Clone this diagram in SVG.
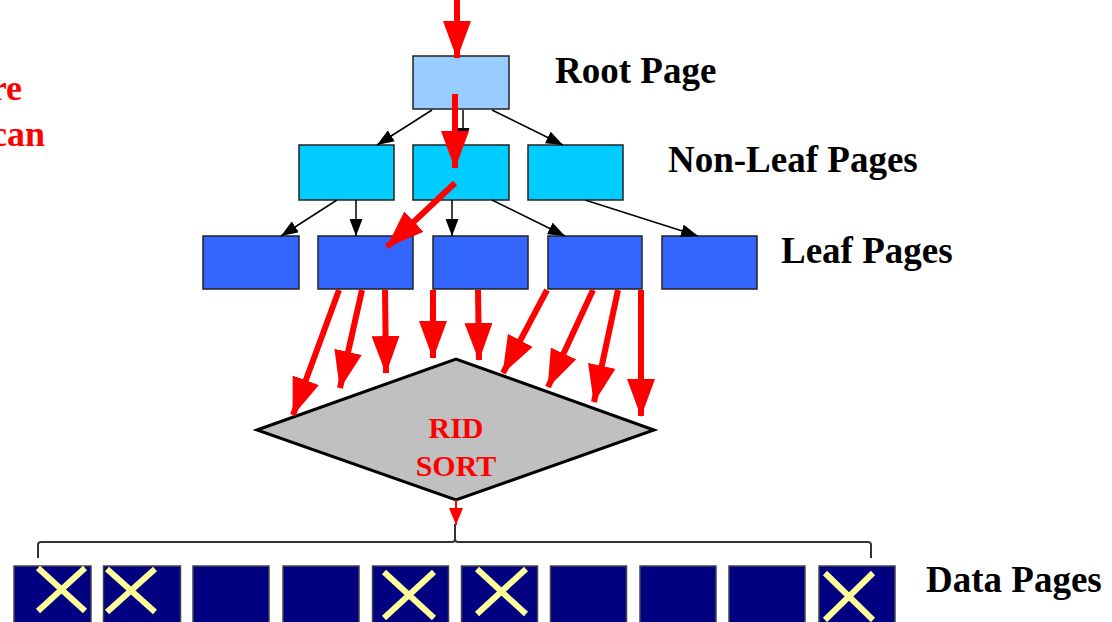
<svg xmlns="http://www.w3.org/2000/svg" width="1112" height="622" viewBox="0 0 1112 622">
<style>
.lbl{font-family:"Liberation Serif","Times New Roman",serif;font-weight:bold;font-size:37px;fill:#000}
.red{font-family:"Liberation Serif","Times New Roman",serif;font-weight:bold;font-size:30px;fill:#ff0000}
.side{font-family:"Liberation Serif","Times New Roman",serif;font-weight:bold;font-size:36px;fill:#ff0000}
.root{fill:#99ccff;stroke:#222;stroke-width:1.5}
.nl{fill:#00ccff;stroke:#222;stroke-width:1.5}
.leaf{fill:#3366ff;stroke:#222;stroke-width:1.5}
.data{fill:#000080;stroke:#444;stroke-width:1.5}
.x{stroke:#ffff99;stroke-width:6;stroke-linecap:butt}
.blk{stroke:#000;stroke-width:1.5;fill:none;marker-end:url(#ab)}
.rd{stroke:#ff0000;stroke-width:6;fill:none;marker-end:url(#ar)}
</style>
<defs>
<marker id="ab" markerUnits="userSpaceOnUse" viewBox="0 0 17 13" markerWidth="17" markerHeight="13" refX="17" refY="6.5" orient="auto"><path d="M0,0 L17,6.5 L0,13 z" fill="#000"/></marker>
<marker id="ar" markerUnits="userSpaceOnUse" viewBox="0 0 38 28" markerWidth="38" markerHeight="28" refX="37" refY="14" orient="auto"><path d="M0,0 L38,14 L0,28 z" fill="#ff0000"/></marker>
<marker id="ars" markerUnits="userSpaceOnUse" viewBox="0 0 17 14" markerWidth="17" markerHeight="14" refX="17" refY="7" orient="auto"><path d="M0,0 L17,7 L0,14 z" fill="#ff0000"/></marker>
</defs>
<rect width="1112" height="622" fill="#fff"/>

<g id="side-text">
<text class="side" x="22" y="100" text-anchor="end">re</text>
<text class="side" x="45" y="146" text-anchor="end">can</text>
</g>

<g id="root"><rect class="root" x="413" y="56" width="96" height="53"/><text class="lbl" x="555" y="83">Root Page</text></g>
<g id="nonleaf">
<rect class="nl" x="299" y="145" width="95" height="55"/>
<rect class="nl" x="413" y="145" width="96" height="55"/>
<rect class="nl" x="528" y="145" width="95" height="55"/>
<text class="lbl" x="668" y="172">Non-Leaf Pages</text>
</g>
<g id="leaf">
<rect class="leaf" x="203" y="236" width="96" height="53"/>
<rect class="leaf" x="318" y="236" width="95" height="53"/>
<rect class="leaf" x="433" y="236" width="95" height="53"/>
<rect class="leaf" x="548" y="236" width="94" height="53"/>
<rect class="leaf" x="662" y="236" width="95" height="53"/>
<text class="lbl" x="781" y="263">Leaf Pages</text>
</g>
<g id="ridsort">
<polygon points="257,430 456,359 654,430 456,500" fill="#c0c0c0" stroke="#000" stroke-width="3"/>
<text class="red" x="456" y="438" text-anchor="middle">RID</text>
<text class="red" x="456" y="476" text-anchor="middle">SORT</text>
</g>
<g id="data">
<rect class="data" x="14" y="566" width="77" height="70"/>
<rect class="data" x="103.5" y="566" width="77" height="70"/>
<rect class="data" x="193" y="566" width="76" height="70"/>
<rect class="data" x="283" y="566" width="76" height="70"/>
<rect class="data" x="372.5" y="566" width="76" height="70"/>
<rect class="data" x="461.5" y="566" width="76" height="70"/>
<rect class="data" x="550.5" y="566" width="76" height="70"/>
<rect class="data" x="640" y="566" width="76" height="70"/>
<rect class="data" x="729" y="566" width="76" height="70"/>
<rect class="data" x="819" y="566" width="76" height="70"/>
<path class="x" d="M38,568 L85,611 M85,568 L38,611"/>
<path class="x" d="M107,569 L155,612 M155,569 L107,612"/>
<path class="x" d="M384,572 L434,618 M434,572 L384,618"/>
<path class="x" d="M477,569 L526,614 M526,569 L477,614"/>
<path class="x" d="M825,573 L873,620 M873,573 L825,620"/>
<text class="lbl" x="926" y="592">Data Pages</text>
</g>

<g id="connectors">
<path d="M38,558 L38,545 Q38,542 41,542 L452,542 Q455,542 455,539 L455,524 M455,539 Q455,542 458,542 L868,542 Q871,542 871,545 L871,558" fill="none" stroke="#333" stroke-width="2"/>
<line class="blk" x1="432" y1="110" x2="377" y2="145"/>
<line class="blk" x1="463" y1="110" x2="463" y2="145"/>
<line class="blk" x1="492" y1="110" x2="563" y2="145"/>
<line class="blk" x1="337" y1="200" x2="281" y2="236"/>
<line class="blk" x1="356" y1="200" x2="356" y2="236"/>
<line class="blk" x1="452" y1="200" x2="452" y2="236"/>
<line class="blk" x1="492" y1="200" x2="565" y2="236"/>
<line class="blk" x1="585" y1="200" x2="698" y2="236"/>
<line class="rd" x1="457" y1="0" x2="457" y2="58"/>
<line class="rd" x1="455" y1="94" x2="455" y2="168"/>
<line class="rd" x1="455" y1="183" x2="387" y2="247"/>
<line class="rd" x1="339" y1="290" x2="293" y2="415"/>
<line class="rd" x1="362" y1="290" x2="340" y2="388"/>
<line class="rd" x1="385" y1="290" x2="386" y2="373"/>
<line class="rd" x1="433" y1="290" x2="433" y2="358"/>
<line class="rd" x1="478" y1="290" x2="479" y2="360"/>
<line class="rd" x1="547" y1="290" x2="503" y2="373"/>
<line class="rd" x1="593" y1="290" x2="548" y2="387"/>
<line class="rd" x1="618" y1="290" x2="594" y2="402"/>
<line class="rd" x1="641" y1="290" x2="641" y2="416"/>
<line x1="456" y1="500" x2="456" y2="525" stroke="#ff0000" stroke-width="2" marker-end="url(#ars)"/>
</g>
</svg>
